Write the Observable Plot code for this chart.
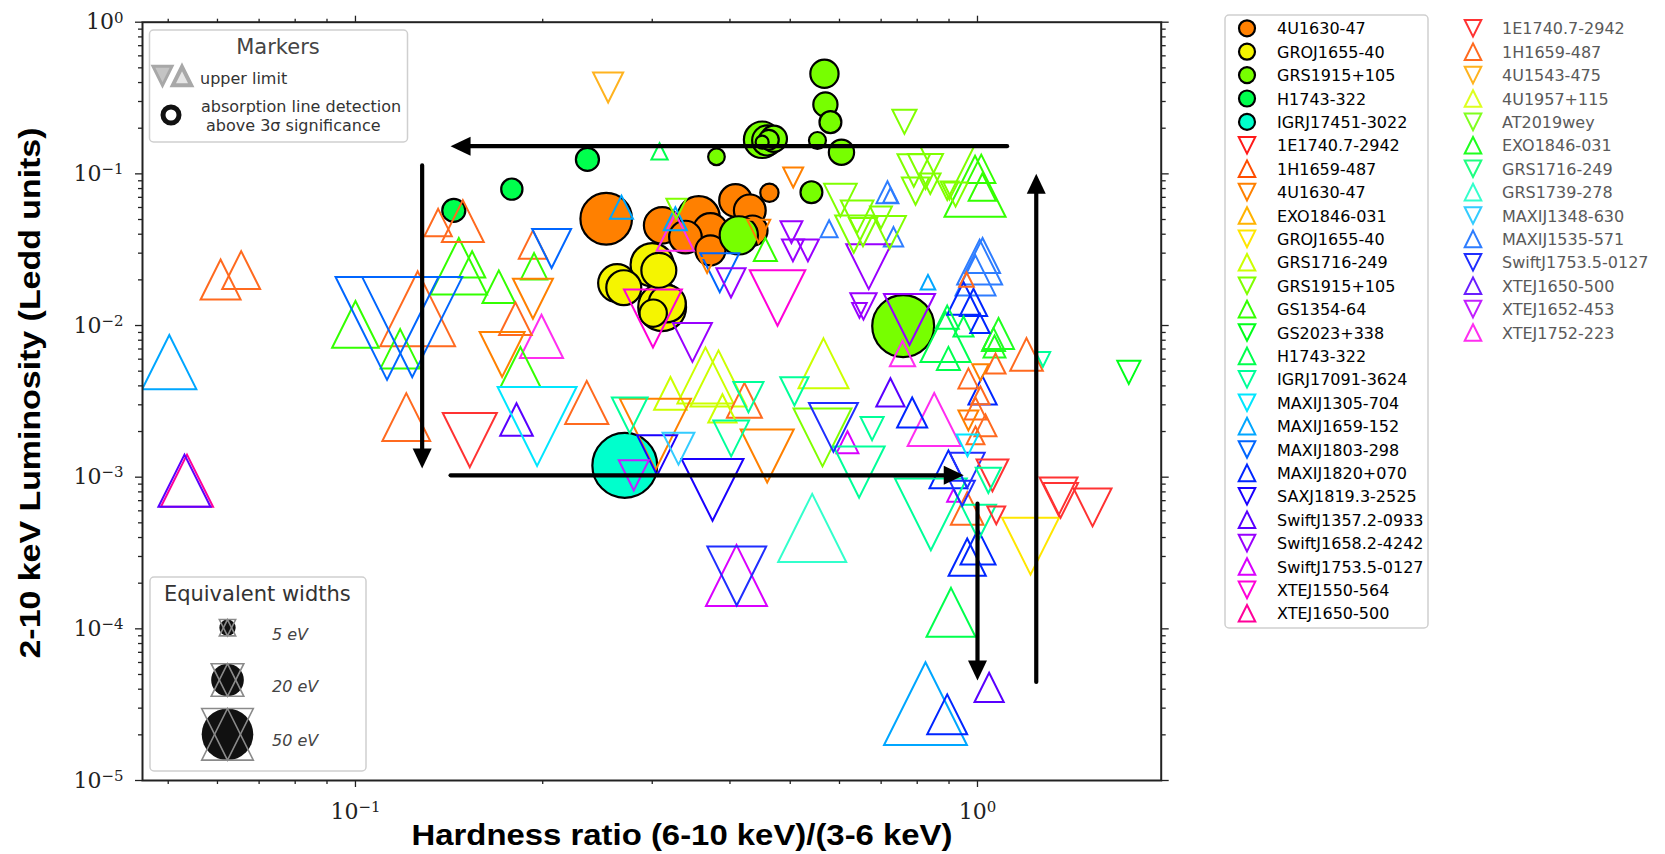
<!DOCTYPE html>
<html>
<head>
<meta charset="utf-8">
<script src="https://cdn.jsdelivr.net/npm/d3@7"></script>
<script src="https://cdn.jsdelivr.net/npm/@observablehq/plot@0.6"></script>
<style>
  html, body { margin: 0; padding: 0; background: #fff; }
  body { width: 1665px; height: 854px; position: relative; overflow: hidden; }
  #chart { position: absolute; left: 0; top: 0; }
  #overlay { position: absolute; left: 0; top: 0; pointer-events: none; }
</style>
</head>
<body>
<div id="chart"></div>
<script>
// ---------------- axes ----------------
const xDomain = [0.04546, 1.974];
const yDomain = [1e-5, 1];
const xMajor = [0.1, 1];
const xMinor = [0.05, 0.06, 0.07, 0.08, 0.09, 0.2, 0.3, 0.4, 0.5, 0.6, 0.7, 0.8, 0.9];
const yMajor = [1e-5, 1e-4, 1e-3, 1e-2, 1e-1, 1];
const yMinorMantissa = [2, 3, 4, 5, 6, 7, 8, 9];
const yMinorDecades = [1e-5, 1e-4, 1e-3, 1e-2, 1e-1];

// ---------------- legend: detections (circles) ----------------
const detSources = ["4U1630-47", "GROJ1655-40", "GRS1915+105", "H1743-322", "IGRJ17451-3022"];
const detColors  = ["#ff8000", "#f5f500", "#77ff00", "#00ff4d", "#00ffcc"];

// ---------------- legend: upper limits, first column (A) ----------------
const limSourcesA = ["1E1740.7-2942", "1H1659-487", "4U1630-47", "EXO1846-031", "GROJ1655-40",
  "GRS1716-249", "GRS1915+105", "GS1354-64", "GS2023+338", "H1743-322", "IGRJ17091-3624",
  "MAXIJ1305-704", "MAXIJ1659-152", "MAXIJ1803-298", "MAXIJ1820+070", "SAXJ1819.3-2525",
  "SwiftJ1357.2-0933", "SwiftJ1658.2-4242", "SwiftJ1753.5-0127", "XTEJ1550-564", "XTEJ1650-500"];
const limShapesA = ["down", "up", "down", "up", "down", "up", "down", "up", "down", "up", "down",
  "down", "up", "down", "up", "down", "up", "down", "up", "down", "up"];
const limColorsA = ["#ff1a1a", "#ff4d00", "#ff8000", "#ffb300", "#ffe600", "#ccff00", "#80ff00",
  "#33ff00", "#00ff1a", "#00ff4d", "#00ff99", "#00e6ff", "#00a6ff", "#0066ff", "#0026ff",
  "#1a00ff", "#5900ff", "#9900ff", "#d900ff", "#ff00d9", "#ff0099"];

// ---------------- legend: upper limits, second column (B) ----------------
const limSourcesB = ["1E1740.7-2942", "1H1659-487", "4U1543-475", "4U1957+115", "AT2019wey",
  "EXO1846-031", "GRS1716-249", "GRS1739-278", "MAXIJ1348-630", "MAXIJ1535-571",
  "SwiftJ1753.5-0127", "XTEJ1650-500", "XTEJ1652-453", "XTEJ1752-223"];
const limShapesB = ["down", "up", "down", "up", "down", "up", "down", "up", "down", "up",
  "down", "up", "down", "up"];
const limColorsB = ["#ff3333", "#ff6a1f", "#ffb31f", "#ddff1f", "#80ff1f", "#1fff1f", "#1fff80",
  "#33ffcc", "#33ccff", "#2e7dff", "#1f2eff", "#6a1fff", "#c21fff", "#ff2ef0"];

// ---------------- detections: [source, hardness ratio, L (Ledd), EW (eV)] ----------------
const detections = [
  ["4U1630-47", 0.253, 0.0506, 50],
  ["4U1630-47", 0.3564, 0.0518, 33],
  ["4U1630-47", 0.3112, 0.0457, 25],
  ["4U1630-47", 0.3721, 0.0423, 23],
  ["4U1630-47", 0.4083, 0.0668, 20],
  ["4U1630-47", 0.3392, 0.0383, 20],
  ["4U1630-47", 0.4305, 0.0574, 19],
  ["4U1630-47", 0.3721, 0.0313, 17],
  ["4U1630-47", 0.4348, 0.0423, 17],
  ["4U1630-47", 0.4629, 0.0751, 6.3],
  ["GROJ1655-40", 0.2999, 0.0252, 35],
  ["GROJ1655-40", 0.3112, 0.0132, 43],
  ["GROJ1655-40", 0.317, 0.01392, 26],
  ["GROJ1655-40", 0.2634, 0.01904, 27],
  ["GROJ1655-40", 0.27, 0.01775, 23],
  ["GROJ1655-40", 0.3074, 0.0231, 23],
  ["GROJ1655-40", 0.3011, 0.01207, 14],
  ["GRS1915+105", 0.4133, 0.0393, 27.5],
  ["GRS1915+105", 0.7595, 0.00991, 72],
  ["GRS1915+105", 0.4506, 0.1678, 25],
  ["GRS1915+105", 0.4591, 0.166, 17],
  ["GRS1915+105", 0.4705, 0.1703, 13],
  ["GRS1915+105", 0.4618, 0.1678, 7.5],
  ["GRS1915+105", 0.4506, 0.1618, 3.2],
  ["GRS1915+105", 0.3805, 0.1297, 5.2],
  ["GRS1915+105", 0.5675, 0.457, 15],
  ["GRS1915+105", 0.5695, 0.2868, 11],
  ["GRS1915+105", 0.5802, 0.2193, 9],
  ["GRS1915+105", 0.553, 0.166, 5.4],
  ["GRS1915+105", 0.6044, 0.139, 12],
  ["GRS1915+105", 0.5408, 0.0757, 9],
  ["H1743-322", 0.1439, 0.0574, 10],
  ["H1743-322", 0.1784, 0.0793, 8.5],
  ["H1743-322", 0.236, 0.1245, 10],
  ["IGRJ17451-3022", 0.271, 0.001196, 79]
];

// ---------------- upper limits: [column:source, hardness ratio, L (Ledd), EW (eV)] ----------------
const upperLimits = [
  ["B:1H1659-487", 0.0607, 0.0201, 30],
  ["B:1H1659-487", 0.0655, 0.0232, 27],
  ["A:MAXIJ1659-152", 0.0502, 0.00574, 55],
  ["A:MAXIJ1803-298", 0.1124, 0.00957, 199],
  ["A:MAXIJ1803-298", 0.1234, 0.00976, 188],
  ["A:GS1354-64", 0.100, 0.01017, 41],
  ["A:GS1354-64", 0.118, 0.00703, 29],
  ["A:GS1354-64", 0.1466, 0.0246, 60],
  ["A:GS1354-64", 0.154, 0.0253, 13],
  ["B:1H1659-487", 0.1259, 0.0129, 105],
  ["B:1H1659-487", 0.1358, 0.0478, 14],
  ["B:1H1659-487", 0.1488, 0.0488, 33],
  ["A:XTEJ1650-500", 0.0536, 0.000948, 51],
  ["A:SwiftJ1357.2-0933", 0.0531, 0.000948, 51],
  ["B:1H1659-487", 0.1207, 0.00249, 43],
  ["B:1E1740.7-2942", 0.1527, 0.001756, 55],
  ["B:4U1543-475", 0.2548, 0.371, 17],
  ["A:H1743-322", 0.3082, 0.1405, 5],
  ["A:MAXIJ1659-152", 0.2677, 0.0603, 10],
  ["A:GRS1915+105", 0.328, 0.0589, 7.5],
  ["A:MAXIJ1659-152", 0.3268, 0.0506, 10],
  ["B:XTEJ1752-223", 0.3268, 0.0413, 26],
  ["A:4U1630-47", 0.5055, 0.0947, 7.5],
  ["A:4U1630-47", 0.4449, 0.0418, 10],
  ["A:GS1354-64", 0.456, 0.0317, 10],
  ["A:SwiftJ1658.2-4242", 0.5022, 0.0413, 9],
  ["A:SwiftJ1658.2-4242", 0.505, 0.0313, 9],
  ["A:SwiftJ1658.2-4242", 0.5338, 0.0313, 9],
  ["A:MAXIJ1803-298", 0.3852, 0.0223, 28.5],
  ["A:4U1630-47", 0.3676, 0.0249, 4.2],
  ["A:SwiftJ1658.2-4242", 0.4015, 0.0191, 16],
  ["A:XTEJ1550-564", 0.477, 0.0152, 58],
  ["A:XTEJ1550-564", 0.3008, 0.01113, 63],
  ["A:SwiftJ1658.2-4242", 0.3481, 0.00774, 28.5],
  ["A:MAXIJ1803-298", 0.2067, 0.0322, 28.5],
  ["B:1H1659-487", 0.1929, 0.0342, 15],
  ["A:GS1354-64", 0.1937, 0.0246, 13],
  ["A:4U1630-47", 0.1929, 0.01502, 30],
  ["A:GS1354-64", 0.170, 0.01803, 20],
  ["B:1H1659-487", 0.1808, 0.01109, 20],
  ["B:XTEJ1752-223", 0.1991, 0.00848, 35],
  ["A:4U1630-47", 0.1721, 0.00645, 38],
  ["A:GS1354-64", 0.1842, 0.00532, 30],
  ["A:MAXIJ1305-704", 0.1959, 0.00216, 117],
  ["B:1H1659-487", 0.2354, 0.00311, 35],
  ["A:SwiftJ1357.2-0933", 0.1815, 0.0024, 20],
  ["A:IGRJ17091-3624", 0.276, 0.002555, 24],
  ["A:4U1630-47", 0.3036, 0.001915, 95],
  ["A:SAXJ1819.3-2525", 0.3055, 0.001393, 30],
  ["B:MAXIJ1348-630", 0.3306, 0.001541, 19],
  ["B:XTEJ1652-453", 0.2802, 0.001028, 17],
  ["A:SAXJ1819.3-2525", 0.375, 0.000825, 72],
  ["A:IGRJ17091-3624", 0.4018, 0.0018, 24],
  ["A:4U1630-47", 0.4591, 0.00138, 53],
  ["B:1H1659-487", 0.422, 0.00321, 23],
  ["A:GRS1716-249", 0.389, 0.00284, 15],
  ["B:GRS1739-278", 0.5423, 0.000463, 87],
  ["A:SwiftJ1753.5-0127", 0.4098, 0.000225, 70],
  ["B:SwiftJ1753.5-0127", 0.4102, 0.000223, 65],
  ["A:GRS1716-249", 0.3209, 0.00357, 20],
  ["A:GRS1716-249", 0.3653, 0.00469, 59],
  ["A:GRS1716-249", 0.3834, 0.00448, 59],
  ["A:GRS1716-249", 0.5655, 0.00563, 47],
  ["A:IGRJ17091-3624", 0.4283, 0.00337, 17],
  ["A:IGRJ17091-3624", 0.5078, 0.00368, 15],
  ["A:GRS1915+105", 0.5634, 0.00183, 63],
  ["B:SwiftJ1753.5-0127", 0.5867, 0.00213, 45],
  ["A:SwiftJ1753.5-0127", 0.618, 0.0017, 9],
  ["A:SwiftJ1357.2-0933", 0.7245, 0.00362, 15],
  ["A:MAXIJ1820+070", 0.7852, 0.00267, 17],
  ["B:XTEJ1752-223", 0.852, 0.0024, 53],
  ["A:IGRJ17091-3624", 0.677, 0.00209, 10],
  ["A:IGRJ17091-3624", 0.6452, 0.00108, 49],
  ["A:IGRJ17091-3624", 0.8414, 0.000569, 97],
  ["A:MAXIJ1820+070", 0.898, 0.001126, 27],
  ["B:SwiftJ1753.5-0127", 0.9626, 0.001109, 23],
  ["B:SwiftJ1753.5-0127", 0.945, 0.000782, 12],
  ["B:1E1740.7-2942", 1.057, 0.001028, 19],
  ["B:1E1740.7-2942", 1.072, 0.00056, 6],
  ["B:1H1659-487", 0.9626, 0.000622, 20],
  ["A:GROJ1655-40", 1.217, 0.000351, 61],
  ["B:1E1740.7-2942", 1.35, 0.000747, 27],
  ["B:1E1740.7-2942", 1.36, 0.000703, 23],
  ["B:1E1740.7-2942", 1.531, 0.000632, 27],
  ["A:MAXIJ1820+070", 0.9626, 0.000297, 26],
  ["A:MAXIJ1820+070", 1.002, 0.000346, 23],
  ["A:H1743-322", 0.9066, 0.0001285, 45],
  ["A:MAXIJ1659-152", 0.8249, 3.21e-5, 129],
  ["A:MAXIJ1820+070", 0.894, 2.73e-5, 30],
  ["A:SwiftJ1357.2-0933", 1.044, 4.11e-5, 16],
  ["A:GS2023+338", 1.751, 0.00491, 10],
  ["A:GRS1915+105", 0.763, 0.2205, 11],
  ["A:GRS1915+105", 0.790, 0.1053, 20],
  ["A:GRS1915+105", 0.8249, 0.1037, 23],
  ["A:GRS1915+105", 0.795, 0.0769, 14],
  ["A:GRS1915+105", 0.8396, 0.0861, 8],
  ["A:GRS1915+105", 0.894, 0.1006, 53],
  ["A:GRS1915+105", 0.9016, 0.0777, 6],
  ["A:GRS1915+105", 0.922, 0.0731, 11],
  ["A:GRS1915+105", 0.602, 0.0671, 20],
  ["A:GRS1915+105", 0.6405, 0.0521, 20],
  ["A:GRS1915+105", 0.6996, 0.0516, 9],
  ["A:GRS1915+105", 0.6326, 0.04003, 26],
  ["A:GRS1915+105", 0.6545, 0.0413, 15],
  ["A:GRS1915+105", 0.7222, 0.0411, 20],
  ["A:GS1354-64", 1.014, 0.108, 15],
  ["A:GS1354-64", 1.018, 0.0817, 14],
  ["A:GS1354-64", 0.991, 0.0829, 70],
  ["B:MAXIJ1535-571", 0.7166, 0.0757, 9],
  ["B:MAXIJ1535-571", 0.7245, 0.0721, 4],
  ["B:MAXIJ1535-571", 0.5774, 0.0435, 5.4],
  ["B:MAXIJ1535-571", 0.7328, 0.0385, 7],
  ["A:SwiftJ1658.2-4242", 0.6686, 0.02445, 38],
  ["A:SwiftJ1658.2-4242", 0.6557, 0.01336, 13],
  ["A:SwiftJ1658.2-4242", 0.646, 0.01258, 4],
  ["A:SwiftJ1658.2-4242", 0.7775, 0.01097, 49],
  ["A:MAXIJ1659-152", 0.8325, 0.0193, 4],
  ["B:MAXIJ1535-571", 1.008, 0.02618, 38],
  ["B:MAXIJ1535-571", 1.019, 0.02897, 23],
  ["B:MAXIJ1535-571", 0.9926, 0.0214, 30],
  ["B:1H1659-487", 0.9601, 0.0201, 4],
  ["A:MAXIJ1820+070", 0.9495, 0.0151, 20],
  ["A:MAXIJ1820+070", 0.9853, 0.0142, 14],
  ["A:MAXIJ1820+070", 1.009, 0.01033, 7],
  ["A:H1743-322", 0.894, 0.01136, 10],
  ["A:H1743-322", 0.8884, 0.00839, 47],
  ["A:H1743-322", 0.9495, 0.00986, 7.5],
  ["A:H1743-322", 0.898, 0.00607, 10],
  ["B:EXO1846-031", 1.081, 0.00887, 18],
  ["B:EXO1846-031", 1.061, 0.0081, 10],
  ["B:EXO1846-031", 1.065, 0.00728, 9],
  ["B:XTEJ1752-223", 0.7576, 0.00652, 12],
  ["B:1H1659-487", 1.199, 0.00645, 20],
  ["B:1H1659-487", 1.069, 0.00562, 7.5],
  ["A:IGRJ17091-3624", 1.274, 0.00598, 4],
  ["B:1H1659-487", 1.011, 0.00346, 6],
  ["B:1H1659-487", 0.9926, 0.00284, 9],
  ["A:4U1630-47", 0.967, 0.002368, 7.5],
  ["B:1H1659-487", 1.030, 0.002196, 9],
  ["A:MAXIJ1305-704", 0.9636, 0.00162, 9],
  ["A:MAXIJ1820+070", 1.019, 0.00373, 15],
  ["B:1H1659-487", 0.9926, 0.001886, 6],
  ["A:IGRJ17091-3624", 1.041, 0.000953, 12],
  ["A:SwiftJ1753.5-0127", 0.915, 0.000759, 3],
  ["A:IGRJ17091-3624", 1.004, 0.000504, 23],
  ["B:1H1659-487", 0.967, 0.00448, 7.5],
  ["A:4U1630-47", 1.011, 0.00491, 5]
];

// ---------------- arrows (start / end in data units) ----------------
const arrowX1 = [1.116, 0.128, 0.1422, 1.0, 1.243];
const arrowY1 = [0.1523, 0.1136, 0.001028, 0.000669, 4.46e-5];
const arrowX2 = [0.1422, 0.128, 0.9505, 1.0, 1.243];
const arrowY2 = [0.1523, 0.001143, 0.001028, 4.57e-5, 0.1002];

// ---------------- EW legend ----------------
const ewLegend = [5, 20, 50];
const ewLegendLabels = ["5 eV", "20 eV", "50 eV"];

// ================= build =================
const colorOf = {}, shapeOf = {}, detColorOf = {};
limSourcesA.forEach((s, i) => { colorOf["A:" + s] = limColorsA[i]; shapeOf["A:" + s] = limShapesA[i]; });
limSourcesB.forEach((s, i) => { colorOf["B:" + s] = limColorsB[i]; shapeOf["B:" + s] = limShapesB[i]; });
detSources.forEach((s, i) => { detColorOf[s] = detColors[i]; });

const ups = upperLimits.filter(d => shapeOf[d[0]] === "up");
const downs = upperLimits.filter(d => shapeOf[d[0]] === "down");

const arrows = arrowX1.map((x1, i) => {
  const x2 = arrowX2[i], y1 = arrowY1[i], y2 = arrowY2[i];
  let angle = 0;
  if (x2 > x1) angle = 90; else if (x2 < x1) angle = -90; else if (y2 < y1) angle = 180;
  return {x1, y1, x2, y2, angle};
});

const yMinor = [];
yMinorDecades.forEach(dec => yMinorMantissa.forEach(m => yMinor.push(m * dec)));

const triUp = {draw(ctx, size) { const r = Math.sqrt(size / Math.PI); ctx.moveTo(0, -r); ctx.lineTo(r, r); ctx.lineTo(-r, r); ctx.closePath(); }};
const triDown = {draw(ctx, size) { const r = Math.sqrt(size / Math.PI); ctx.moveTo(0, r); ctx.lineTo(r, -r); ctx.lineTo(-r, -r); ctx.closePath(); }};
const head = {draw(ctx, size) { const r = Math.sqrt(size / Math.PI); ctx.moveTo(0, 0); ctx.lineTo(0.95 * r, 2 * r); ctx.lineTo(-0.95 * r, 2 * r); ctx.closePath(); }};

const powLabel = d => "10^" + Math.round(Math.log10(d));
const blank = () => "";
const tickStyle = {label: null, color: "#222", strokeWidth: 1.3};

const chart = Plot.plot({
  width: 1665, height: 854,
  marginLeft: 142, marginRight: 504.3, marginTop: 21.7, marginBottom: 74,
  x: {type: "log", domain: xDomain, label: null},
  y: {type: "log", domain: yDomain, label: null},
  r: {type: "sqrt", domain: [0, 50], range: [0, 25.8]},
  color: {type: "identity"},
  style: {fontFamily: "DejaVu Serif", background: "white", overflow: "visible"},
  marks: [
    Plot.dot(detections, {x: d => d[1], y: d => d[2], r: d => d[3], symbol: "circle",
      fill: d => detColorOf[d[0]], stroke: "#000", strokeWidth: 2.2, sort: null, clip: true}),
    Plot.dot(ups, {x: d => d[1], y: d => d[2], r: d => d[3], symbol: triUp,
      stroke: d => colorOf[d[0]], fill: "none", strokeWidth: 2, clip: true}),
    Plot.dot(downs, {x: d => d[1], y: d => d[2], r: d => d[3], symbol: triDown,
      stroke: d => colorOf[d[0]], fill: "none", strokeWidth: 2, clip: true}),
    Plot.arrow(arrows, {x1: "x1", y1: "y1", x2: "x2", y2: "y2", stroke: "#000",
      strokeWidth: 4.2, headLength: 0, insetEnd: 14}),
    Plot.dot(arrows, {x: "x2", y: "y2", r: 10, symbol: head, rotate: "angle", fill: "#000", stroke: "none"}),
    Plot.axisX({ticks: xMajor, anchor: "bottom", tickSize: 7, tickPadding: 16, tickFormat: powLabel, fontSize: 22, ...tickStyle}),
    Plot.axisX({ticks: xMinor, anchor: "bottom", tickSize: 4, tickFormat: blank, ...tickStyle}),
    Plot.axisX({ticks: xMajor, anchor: "top", tickSize: 7, tickFormat: blank, ...tickStyle}),
    Plot.axisX({ticks: xMinor, anchor: "top", tickSize: 4, tickFormat: blank, ...tickStyle}),
    Plot.axisY({ticks: yMajor, anchor: "left", tickSize: 7, tickPadding: 12, tickFormat: powLabel, fontSize: 22, ...tickStyle}),
    Plot.axisY({ticks: yMinor, anchor: "left", tickSize: 4, tickFormat: blank, ...tickStyle}),
    Plot.axisY({ticks: yMajor, anchor: "right", tickSize: 7, tickFormat: blank, ...tickStyle}),
    Plot.axisY({ticks: yMinor, anchor: "right", tickSize: 4, tickFormat: blank, ...tickStyle}),
    Plot.frame({stroke: "#222", strokeWidth: 2})
  ]
});
document.getElementById("chart").append(chart);

// superscript tick labels
d3.select(chart).selectAll("text").each(function () {
  const m = /^10\^(-?\d+)$/.exec(this.textContent);
  if (m) {
    this.textContent = "10";
    d3.select(this).append("tspan").attr("dy", "-0.45em").attr("font-size", "0.68em")
      .text(m[1].replace("-", "\u2212"));
  }
});

// ================= overlay: titles & legends =================
const rScale = chart.scale("r");
const ov = d3.select("body").append("svg").attr("id", "overlay").attr("width", 1665).attr("height", 854);

function tri(g, cx, cy, r, dir) {
  const p = dir === "up"
    ? [[cx, cy - r], [cx + r, cy + r], [cx - r, cy + r]]
    : [[cx, cy + r], [cx + r, cy - r], [cx - r, cy - r]];
  return g.append("path").attr("d", "M" + p.map(q => q.join(",")).join("L") + "Z");
}

// axis titles
ov.append("text").attr("x", 682).attr("y", 845).attr("text-anchor", "middle")
  .attr("font-family", "Liberation Sans, Arial, sans-serif").attr("font-weight", "bold")
  .attr("font-size", 30).attr("textLength", 541).attr("lengthAdjust", "spacingAndGlyphs")
  .text("Hardness ratio (6-10 keV)/(3-6 keV)");
ov.append("text").attr("transform", "translate(40,393) rotate(-90)").attr("text-anchor", "middle")
  .attr("font-family", "Liberation Sans, Arial, sans-serif").attr("font-weight", "bold")
  .attr("font-size", 30).attr("textLength", 531).attr("lengthAdjust", "spacingAndGlyphs")
  .text("2-10 keV Luminosity (Ledd units)");

// "Markers" inset legend
const mk = ov.append("g");
mk.append("rect").attr("x", 149.5).attr("y", 30).attr("width", 258).attr("height", 112).attr("rx", 4)
  .attr("fill", "#fff").attr("fill-opacity", 0.85).attr("stroke", "#cfcfcf").attr("stroke-width", 1.5);
mk.append("text").attr("x", 278).attr("y", 54).attr("text-anchor", "middle")
  .attr("font-family", "DejaVu Sans").attr("font-size", 21).attr("fill", "#444").text("Markers");
tri(mk, 162.5, 75.8, 9.5, "down").attr("fill", "#c4c4c4").attr("stroke", "#a8a8a8").attr("stroke-width", 3);
tri(mk, 182, 76, 9.2, "up").attr("fill", "#e6e6e6").attr("stroke", "#a8a8a8").attr("stroke-width", 4);
mk.append("text").attr("x", 200).attr("y", 84).attr("font-family", "DejaVu Sans").attr("font-size", 16)
  .attr("fill", "#333").text("upper limit");
mk.append("circle").attr("cx", 171).attr("cy", 115).attr("r", 8).attr("fill", "#fff")
  .attr("stroke", "#111").attr("stroke-width", 5);
mk.append("text").attr("x", 201).attr("y", 111.5).attr("font-family", "DejaVu Sans").attr("font-size", 16)
  .attr("fill", "#333").text("absorption line detection");
mk.append("text").attr("x", 206).attr("y", 130.5).attr("font-family", "DejaVu Sans").attr("font-size", 16)
  .attr("fill", "#333").text("above 3\u03c3 significance");

// "Equivalent widths" inset legend
const ew = ov.append("g");
ew.append("rect").attr("x", 150).attr("y", 577).attr("width", 216).attr("height", 194).attr("rx", 4)
  .attr("fill", "#fff").attr("fill-opacity", 0.85).attr("stroke", "#cfcfcf").attr("stroke-width", 1.5);
ew.append("text").attr("x", 257.3).attr("y", 601).attr("text-anchor", "middle")
  .attr("font-family", "DejaVu Sans").attr("font-size", 21).attr("fill", "#333").text("Equivalent widths");
const ewY = [627.7, 680, 734.3];
ewLegend.forEach((v, i) => {
  const r = rScale.apply(v);
  ew.append("circle").attr("cx", 227.5).attr("cy", ewY[i]).attr("r", r).attr("fill", "#111");
  tri(ew, 227.5, ewY[i], r, "up").attr("fill", "none").attr("stroke", "#8a8a8a").attr("stroke-width", 1.6);
  tri(ew, 227.5, ewY[i], r, "down").attr("fill", "none").attr("stroke", "#8a8a8a").attr("stroke-width", 1.6);
  ew.append("text").attr("x", 272).attr("y", ewY[i] + 12).attr("font-family", "DejaVu Sans")
    .attr("font-style", "italic").attr("font-size", 16).attr("fill", "#444").text(ewLegendLabels[i]);
});

// right-hand source legend
const lg = ov.append("g");
const rowY = i => 28.3 + i * 23.4;
const colA = [];
detSources.forEach((s, i) => colA.push({name: s, kind: "circle", color: detColors[i]}));
limSourcesA.forEach((s, i) => colA.push({name: s, kind: limShapesA[i], color: limColorsA[i]}));
lg.append("rect").attr("x", 1225).attr("y", 15).attr("width", 203).attr("height", 613).attr("rx", 4)
  .attr("fill", "#fff").attr("stroke", "#cfcfcf").attr("stroke-width", 1.5);
colA.forEach((e, i) => {
  const y = rowY(i);
  if (e.kind === "circle") {
    lg.append("circle").attr("cx", 1247).attr("cy", y).attr("r", 8).attr("fill", e.color)
      .attr("stroke", "#000").attr("stroke-width", 2.2);
  } else {
    tri(lg, 1247, y, 8.3, e.kind).attr("fill", "none").attr("stroke", e.color).attr("stroke-width", 2);
  }
  lg.append("text").attr("x", 1277).attr("y", y + 6).attr("font-family", "DejaVu Sans")
    .attr("font-size", 16).attr("fill", "#000").text(e.name);
});
limSourcesB.forEach((s, i) => {
  const y = rowY(i);
  tri(lg, 1473, y, 8.3, limShapesB[i]).attr("fill", "none").attr("stroke", limColorsB[i]).attr("stroke-width", 2);
  lg.append("text").attr("x", 1502).attr("y", y + 6).attr("font-family", "DejaVu Sans")
    .attr("font-size", 16).attr("fill", "#5a5a5a").text(s);
});
</script>
</body>
</html>
